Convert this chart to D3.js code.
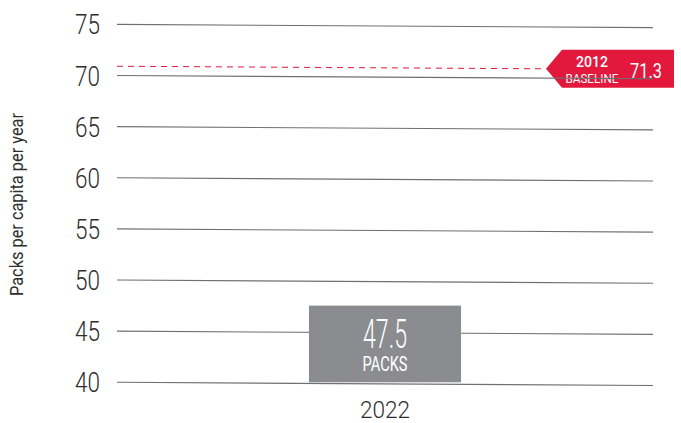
<!DOCTYPE html>
<html>
<head>
<meta charset="utf-8">
<script src="https://cdn.jsdelivr.net/npm/d3@7"></script>
<style>
  html, body { margin: 0; padding: 0; background: #fff; }
  svg { display: block; font-family: Roboto, "Liberation Sans", sans-serif; }
</style>
</head>
<body>
<svg id="chart" width="681" height="423"></svg>
<script>
// ---- data ----
const categories = ["2022"];
const values = [47.5];
const valueUnit = "PACKS";
const yTicks = [40, 45, 50, 55, 60, 65, 70, 75];
const baselineYear = "2012";
const baselineWord = "BASELINE";
const baselineValue = 71.3;
const yTitle = "Packs per capita per year";

(function () {
// ---- layout ----
const plotL = 117, plotR = 653, plotT = 24.4, plotB = 382.3;
const tilt = 0.006;          // slight slope of the rules
const red = "#e3183d", barColor = "#8b8c90", textColor = "#2e2e2e", gridColor = "#707070";

const svg = d3.select("#chart");

const y = d3.scaleLinear().domain([40, 75]).range([plotB, plotT]);
const x = d3.scaleBand().domain(categories).range([plotL, plotR]).padding(0.558);
const tiltAt = px => (px - plotL) * tilt;

// baseline dashed line
const tipX = 546;
const by = y(baselineValue) + 4;
svg.append("line")
  .attr("x1", plotL).attr("x2", tipX)
  .attr("y1", by).attr("y2", by + tiltAt(tipX))
  .attr("stroke", red).attr("stroke-width", 1)
  .attr("stroke-dasharray", "6,5");

// baseline label flag
const cy = by + tiltAt(tipX);
const rx0 = tipX + 16, rx1 = plotR + 21, hh = 19;
svg.append("path")
  .attr("d", `M${tipX},${cy} L${rx0},${cy - hh} L${rx1},${cy - hh} L${rx1},${cy + hh} L${rx0},${cy + hh} Z`)
  .attr("fill", red);
svg.append("text")
  .attr("x", 592).attr("y", cy - 2)
  .attr("text-anchor", "middle").attr("fill", "#fff")
  .attr("font-size", 14).attr("font-weight", 500)
  .attr("textLength", 32).attr("lengthAdjust", "spacingAndGlyphs")
  .text(baselineYear);
svg.append("text")
  .attr("x", 592).attr("y", cy + 14)
  .attr("text-anchor", "middle").attr("fill", "#fff")
  .attr("font-size", 13.5)
  .attr("textLength", 53).attr("lengthAdjust", "spacingAndGlyphs")
  .text(baselineWord);
svg.append("text")
  .attr("x", 646).attr("y", cy + 9)
  .attr("text-anchor", "middle").attr("fill", "#fff")
  .attr("font-size", 21)
  .attr("textLength", 32).attr("lengthAdjust", "spacingAndGlyphs")
  .text(d3.format(".1f")(baselineValue));

// gridlines (drawn over the flag)
svg.append("g").selectAll("line").data(yTicks).join("line")
  .attr("x1", plotL).attr("x2", plotR)
  .attr("y1", d => y(d)).attr("y2", d => y(d) + tiltAt(plotR))
  .attr("stroke", gridColor).attr("stroke-width", 1.1);

// tick labels
svg.append("g").selectAll("text").data(yTicks).join("text")
  .attr("x", 100).attr("y", d => y(d) + 10)
  .attr("text-anchor", "end").attr("fill", textColor)
  .attr("font-size", 28).attr("font-weight", 300)
  .attr("textLength", 25).attr("lengthAdjust", "spacingAndGlyphs")
  .text(d => d);

// y title
svg.append("text")
  .attr("transform", `translate(23,${(113 + 296) / 2}) rotate(-90)`)
  .attr("text-anchor", "middle").attr("fill", textColor)
  .attr("font-size", 18.5)
  .attr("textLength", 183).attr("lengthAdjust", "spacingAndGlyphs")
  .text(yTitle);

// bars
const bars = svg.append("g").selectAll("g").data(categories.map((c, i) => ({c, v: values[i]}))).join("g");
bars.append("rect")
  .attr("x", d => x(d.c)).attr("width", x.bandwidth())
  .attr("y", d => y(d.v)).attr("height", d => y(40) - y(d.v))
  .attr("fill", barColor);
bars.append("text")
  .attr("x", d => x(d.c) + x.bandwidth() / 2).attr("y", d => y(d.v) + 42)
  .attr("text-anchor", "middle").attr("fill", "#fff")
  .attr("font-size", 41).attr("font-weight", 300)
  .attr("textLength", 44).attr("lengthAdjust", "spacingAndGlyphs")
  .text(d => d3.format(".1f")(d.v));
bars.append("text")
  .attr("x", d => x(d.c) + x.bandwidth() / 2).attr("y", d => y(d.v) + 65.5)
  .attr("text-anchor", "middle").attr("fill", "#fff")
  .attr("font-size", 21)
  .attr("textLength", 45).attr("lengthAdjust", "spacingAndGlyphs")
  .text(valueUnit);

// x labels
svg.append("g").selectAll("text").data(categories).join("text")
  .attr("x", d => x(d) + x.bandwidth() / 2).attr("y", 418)
  .attr("text-anchor", "middle").attr("fill", textColor)
  .attr("font-size", 24).attr("font-weight", 300)
  .attr("textLength", 50).attr("lengthAdjust", "spacingAndGlyphs")
  .text(d => d);
})();
</script>
</body>
</html>
